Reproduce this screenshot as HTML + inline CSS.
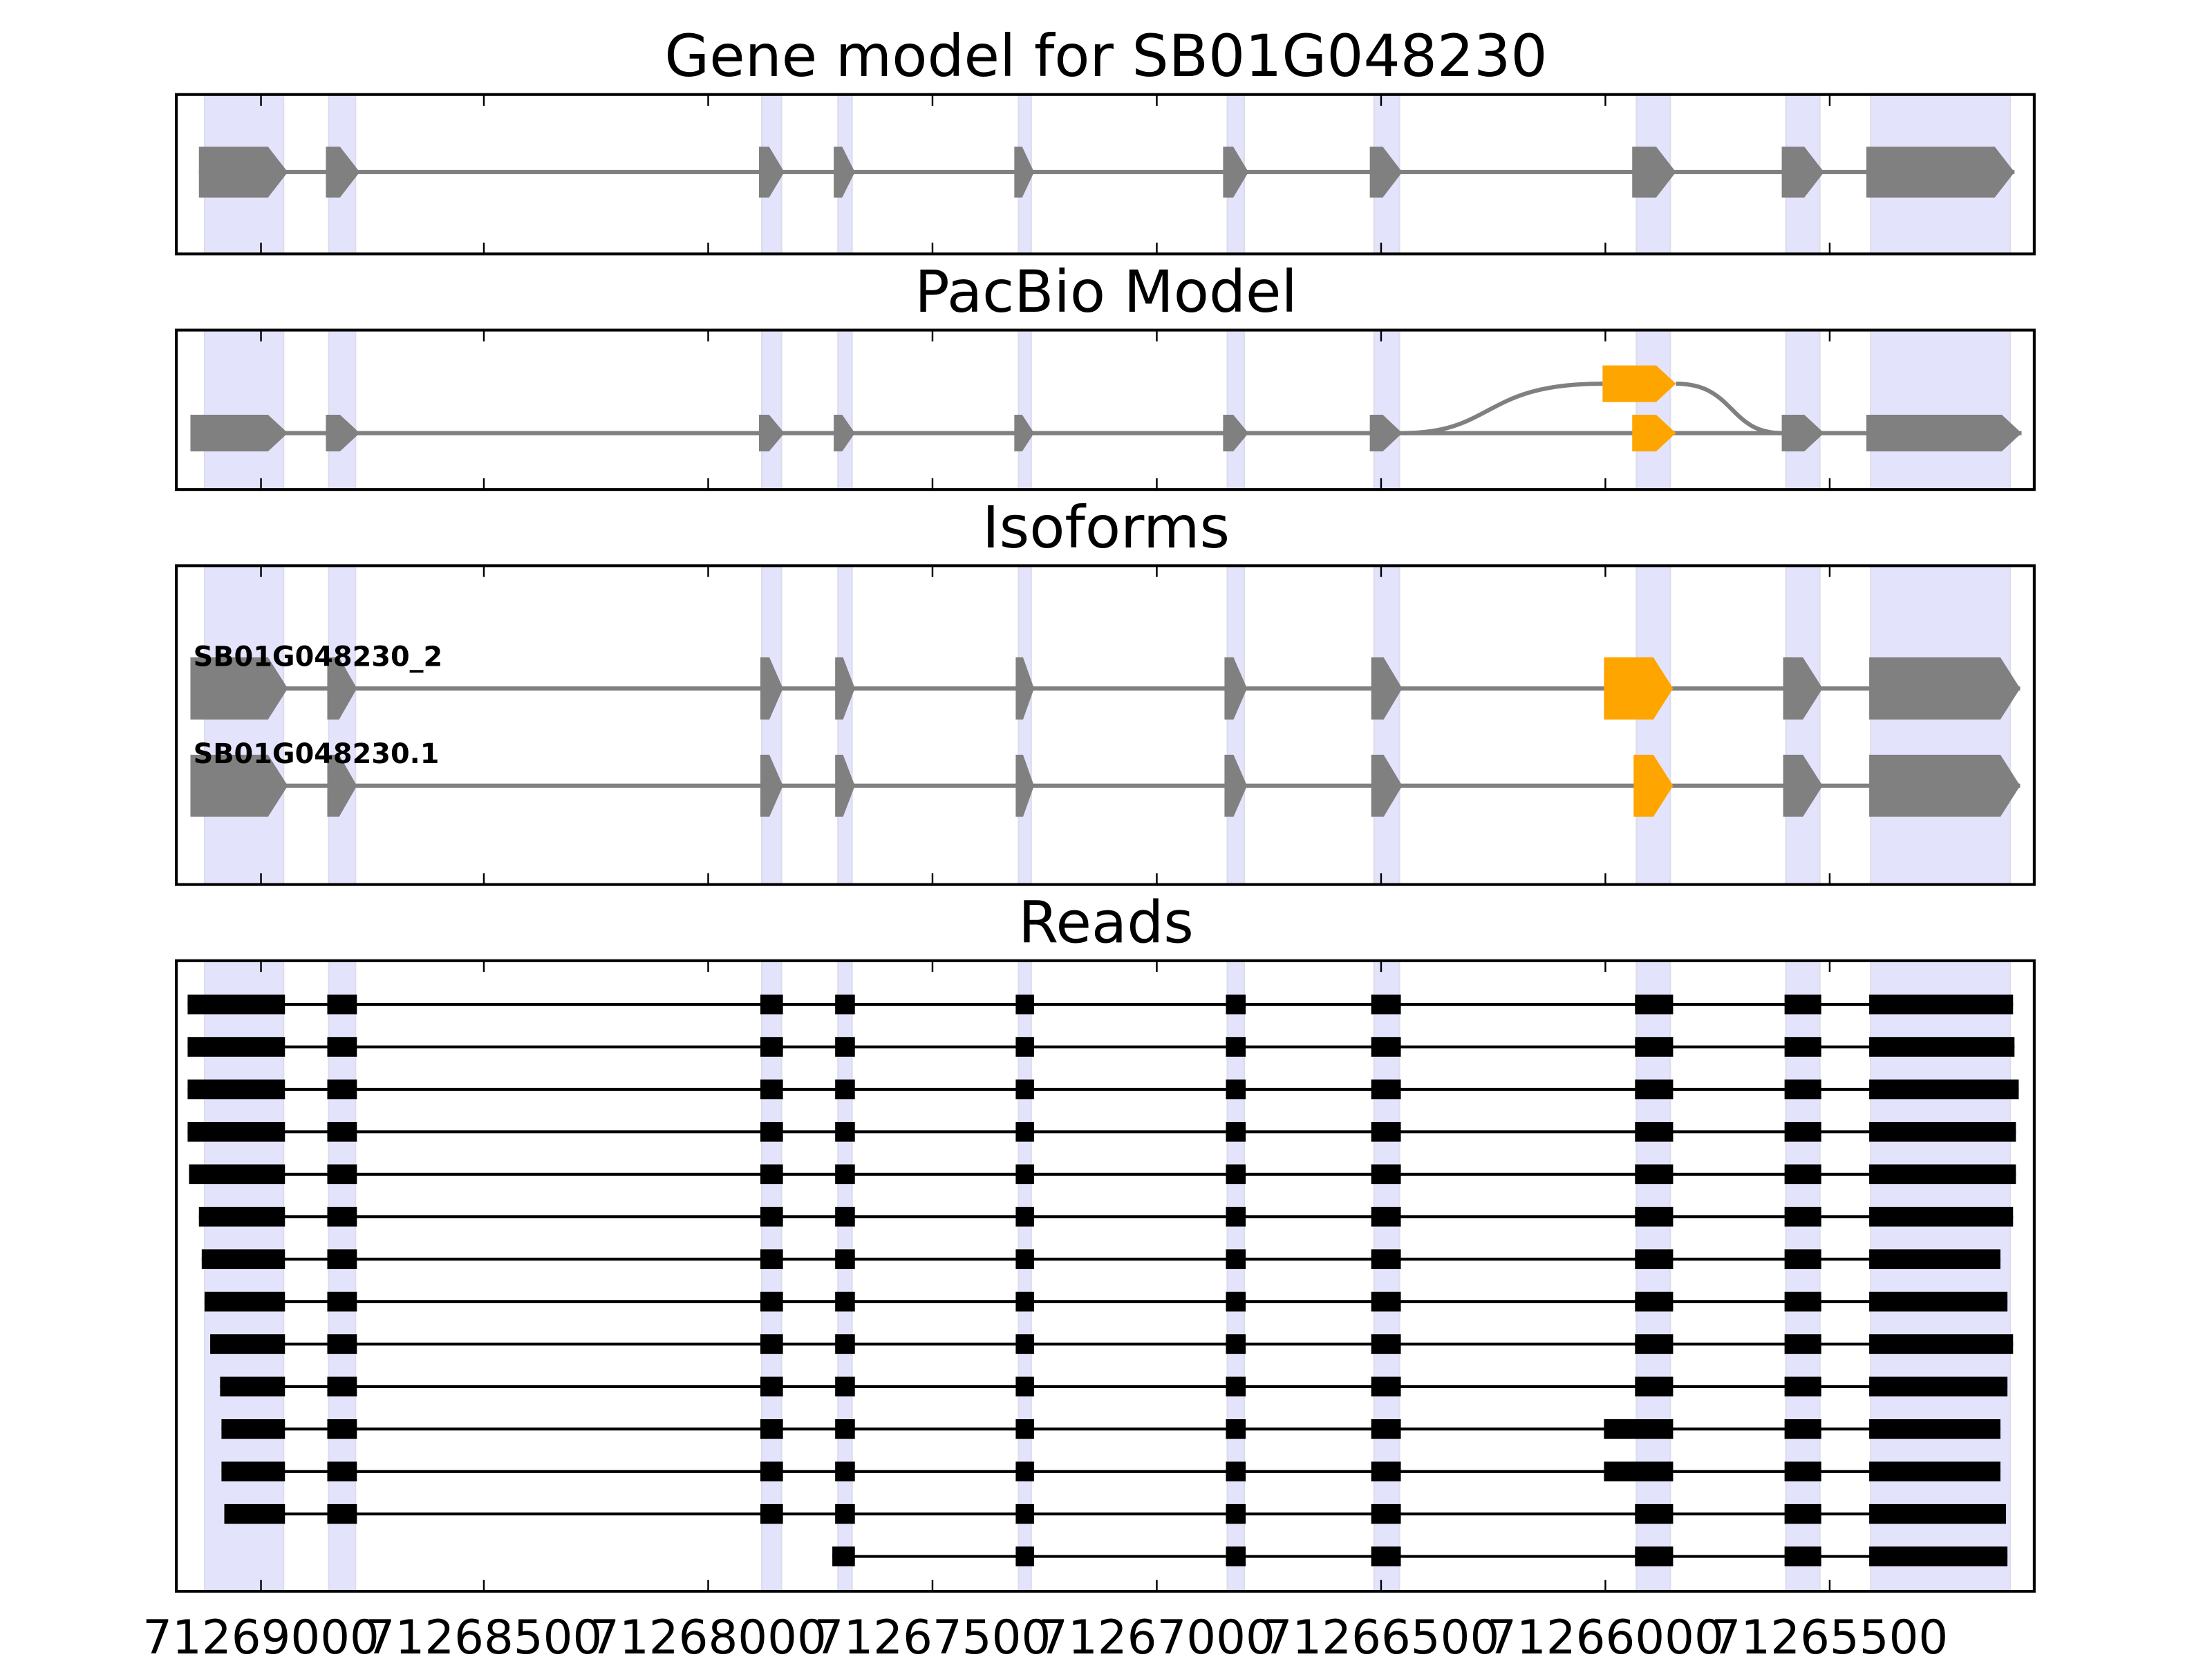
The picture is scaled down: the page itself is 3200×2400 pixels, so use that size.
<!DOCTYPE html>
<html><head><meta charset="utf-8"><style>html,body{margin:0;padding:0;background:#fff}svg{display:block}</style></head>
<body>
<svg id="s" xmlns="http://www.w3.org/2000/svg" width="3200" height="2400" viewBox="0 0 1568 1176" font-family="DejaVu Sans, Liberation Sans, sans-serif">
<rect width="1568" height="1176" fill="#fff"/>
<g id="g"></g>
</svg>
<script>
const NS="http://www.w3.org/2000/svg";const g=document.getElementById('g');
function el(t,a,txt){const e=document.createElementNS(NS,t);for(const k in a)e.setAttribute(k,a[k]);if(txt!==undefined)e.textContent=txt;g.appendChild(e);return e;}
const L=125,R=1442;
const panels=[[67,180,"Gene model for SB01G048230"],[234,347,"PacBio Model"],[401,627,"Isoforms"],[681,1128,"Reads"]];
const bands=[[145,201],[233,252],[540,554],[594,604],[722,731],[870,882],[974,992],[1160,1184],[1266,1290],[1326,1425]];
const ticks=[185,343,502,661,820,979,1138,1297];
panels.forEach(p=>{
 bands.forEach(b=>el('rect',{x:b[0],y:p[0],width:b[1]-b[0],height:p[1]-p[0],fill:'#e3e3fb',stroke:'#dcdcec','stroke-width':1}));
 el('text',{x:784,y:p[0]-13,'font-size':41,'text-anchor':'middle'},p[2]);
});
function exon(x1,x2,yc,h,col){const tip=Math.min(14,(x2-x1)*0.6);el('polygon',{points:`${x1},${yc-h/2} ${x2-tip},${yc-h/2} ${x2},${yc} ${x2-tip},${yc+h/2} ${x1},${yc+h/2}`,fill:col});}
function line(x1,x2,y,c,w){el('line',{x1:x1,x2:x2,y1:y,y2:y,stroke:c,'stroke-width':w});}
const G='#808080',O='#ffa500';
const ex1=[[141,204],[231,255],[538,556],[591,606],[719,733],[867,885],[971,994],[1157,1188],[1263,1293],[1323,1428]];
line(141,1428,122,G,3);ex1.forEach(e=>exon(e[0],e[1],122,36,G));
const ex2=[[135,204],[231,255],[538,556],[591,606],[719,733],[867,885],[971,994],[1157,1188,O],[1263,1293],[1323,1433]];
line(135,1433,307,G,3);
el('path',{d:'M994,307 C1060,307 1050,272 1136,272',fill:'none',stroke:G,'stroke-width':3});
el('path',{d:'M1188,272 C1230,272 1225,307 1263,307',fill:'none',stroke:G,'stroke-width':3});
ex2.forEach(e=>exon(e[0],e[1],307,26,e[2]||G));
exon(1136,1188,272,26,O);
[[488,1137],[557,1158]].forEach(([y,os],i)=>{
 line(135,1432,y,G,3);
 [[135,204],[232,253],[539,555],[592,606],[720,733],[868,884],[972,994],[os,1186,O],[1264,1292],[1325,1432]].forEach(e=>exon(e[0],e[1],y,44,e[2]||G));
});
el('text',{x:137,y:472,'font-size':19.5,'font-weight':'bold'},'SB01G048230_2');
el('text',{x:137,y:541,'font-size':19.5,'font-weight':'bold'},'SB01G048230.1');
const st=[133,133,133,133,134,141,143,145,149,156,157,157,159,null];
const en=[1427,1428,1431,1429,1429,1427,1418,1423,1427,1423,1418,1418,1422,1423];
for(let i=0;i<14;i++){
 const y=712+i*30.1;const s=st[i];
 const bl=[];
 if(s!==null){bl.push([s,202],[232,253],[539,555]);}
 bl.push([i==13?590:592,606],[720,733],[869,883],[972,993],[(i==10||i==11)?1137:1159,1186],[1265,1291],[1325,en[i]]);
 line(bl[0][0],en[i],y,'#000',2);
 bl.forEach(b=>el('rect',{x:b[0],y:y-7,width:b[1]-b[0],height:14,fill:'#000'}));
}
panels.forEach(p=>{
 el('rect',{x:L,y:p[0],width:R-L,height:p[1]-p[0],fill:'none',stroke:'#000','stroke-width':2});
 ticks.forEach(t=>{el('line',{x1:t,x2:t,y1:p[0],y2:p[0]+8,stroke:'#000','stroke-width':1.2});el('line',{x1:t,x2:t,y1:p[1],y2:p[1]-8,stroke:'#000','stroke-width':1.2});});
});
const labs=['71269000','71268500','71268000','71267500','71267000','71266500','71266000','71265500'];
ticks.forEach((t,i)=>el('text',{x:t,y:1172,'font-size':33,'text-anchor':'middle'},labs[i]));
</script>
</body></html>
